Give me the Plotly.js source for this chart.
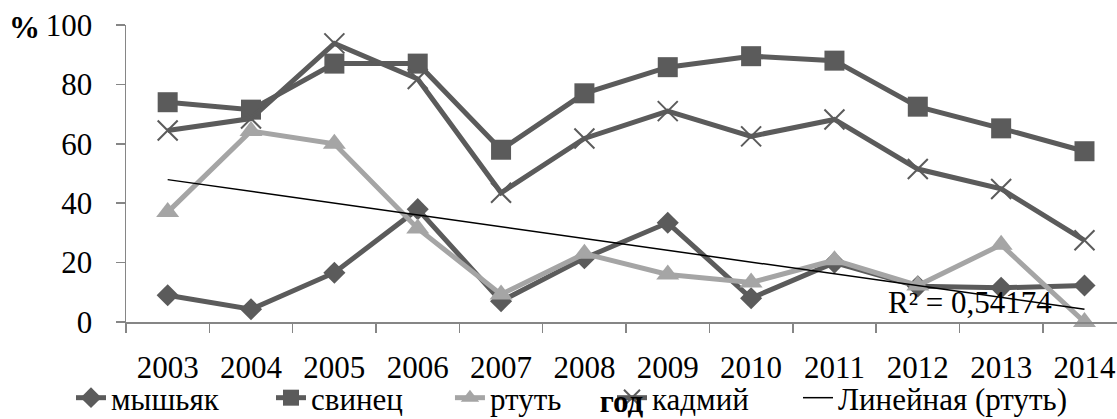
<!DOCTYPE html>
<html>
<head>
<meta charset="utf-8">
<script src="https://cdn.plot.ly/plotly-3.0.1.min.js"></script>
<style>
html, body { margin: 0; padding: 0; background: #fff; overflow: hidden; }
#chart { width: 1117px; height: 419px; }
</style>
</head>
<body>
<div id="chart"></div>
<script>
// ---- data ----
var years = ['2003','2004','2005','2006','2007','2008','2009','2010','2011','2012','2013','2014'];
var arsenic = [9, 4.3, 16.6, 38, 7, 21.5, 33.4, 8, 20, 12, 11.5, 12.3];          // мышьяк
var lead    = [74, 71.5, 87, 87, 58, 77, 85.8, 89.5, 88, 72.5, 65.2, 57.5];      // свинец
var mercury = [37, 64.3, 60, 31.5, 9.3, 23, 16, 13.3, 20.8, 12.3, 26, 0];       // ртуть
var cadmium = [64.5, 68.5, 93.8, 81.8, 43.5, 61.8, 71, 62.5, 68.2, 51.5, 44.8, 27.5]; // кадмий
var seriesNames = ['мышьяк', 'свинец', 'ртуть', 'кадмий', 'Линейная (ртуть)'];
var yTicks = [0, 20, 40, 60, 80, 100];
var r2Text = 'R² = 0,54174';
var yUnit = '%';
var xTitle = 'год';

// linear trend of the mercury series (least squares, as in the source chart)
function linFit(vals) {
  var n = vals.length, sx = 0, sy = 0, sxx = 0, sxy = 0;
  for (var i = 0; i < n; i++) { sx += i; sy += vals[i]; sxx += i * i; sxy += i * vals[i]; }
  var b = (n * sxy - sx * sy) / (n * sxx - sx * sx);
  var a = (sy - b * sx) / n;
  return [a, a + b * (n - 1)];
}
var trend = linFit(mercury);

var dark = '#5b5b5b', light = '#a5a5a5';
var FONT = '"Liberation Serif", serif';

var traces = [
  {x: years, y: arsenic, name: seriesNames[0], mode: 'lines+markers', legend: 'legend',
   line: {color: dark, width: 5}, marker: {symbol: 'diamond', size: 17, color: dark}, cliponaxis: false},
  {x: years, y: lead, name: seriesNames[1], mode: 'lines+markers', legend: 'legend2',
   line: {color: dark, width: 5}, marker: {symbol: 'square', size: 20, color: dark}, cliponaxis: false},
  {x: years, y: mercury, name: seriesNames[2], mode: 'lines+markers', legend: 'legend3',
   line: {color: light, width: 5}, marker: {symbol: 'triangle-up', size: 20, color: light}, cliponaxis: false},
  {x: years, y: cadmium, name: seriesNames[3], mode: 'lines+markers', legend: 'legend4',
   line: {color: dark, width: 5}, marker: {symbol: 'x-thin-open', size: 20, color: dark, line: {color: dark, width: 2}}, cliponaxis: false},
  {x: [years[0], years[years.length - 1]], y: trend, name: seriesNames[4], mode: 'lines', legend: 'legend5',
   line: {color: '#000', width: 1.5}, cliponaxis: false}
];

function lg(x) {
  return {x: x, y: -0.256, xanchor: 'left', yanchor: 'middle', orientation: 'h',
          bgcolor: 'rgba(0,0,0,0)', borderwidth: 0, font: {family: FONT, size: 31, color: '#000'}};
}

var layout = {
  width: 1117, height: 419,
  margin: {l: 126, r: 0, t: 25, b: 97, autoexpand: false},
  paper_bgcolor: '#fff', plot_bgcolor: '#fff',
  font: {family: FONT, size: 31, color: '#000'},
  showlegend: true,
  xaxis: {
    type: 'category', range: [-0.5, 11.39], automargin: false,
    showgrid: false, zeroline: false,
    showline: true, linecolor: '#868686', linewidth: 1.5,
    ticks: 'outside', tickson: 'boundaries', ticklen: 9, tickcolor: '#868686', tickwidth: 1.5,
    ticklabelstandoff: 17,
    tickfont: {family: FONT, size: 31, color: '#000'},
    title: {text: '<b>' + xTitle + '</b>', font: {family: FONT, size: 31, color: '#000'}, standoff: 16}
  },
  yaxis: {
    range: [0, 100], tickvals: yTicks, automargin: false,
    showgrid: false, zeroline: false,
    showline: true, linecolor: '#868686', linewidth: 1.5,
    ticks: 'outside', ticklen: 9, tickcolor: '#868686', tickwidth: 1.5,
    ticklabelstandoff: 17,
    tickfont: {family: FONT, size: 31, color: '#000'}
  },
  legend: lg(-0.0555),
  legend2: lg(0.1463),
  legend3: lg(0.3269),
  legend4: lg(0.4904),
  legend5: lg(0.6781),
  annotations: [
    {xref: 'paper', yref: 'paper', x: -0.102, y: 0.993, text: '<b>' + yUnit + '</b>', showarrow: false,
     xanchor: 'center', yanchor: 'middle', font: {family: FONT, size: 31, color: '#000'}},
    {xref: 'paper', yref: 'paper', x: 0.852, y: 0.064, text: r2Text, showarrow: false,
     xanchor: 'center', yanchor: 'middle', font: {family: FONT, size: 31, color: '#000'}}
  ]
};

Plotly.newPlot('chart', traces, layout, {displayModeBar: false, staticPlot: true});
</script>
</body>
</html>
